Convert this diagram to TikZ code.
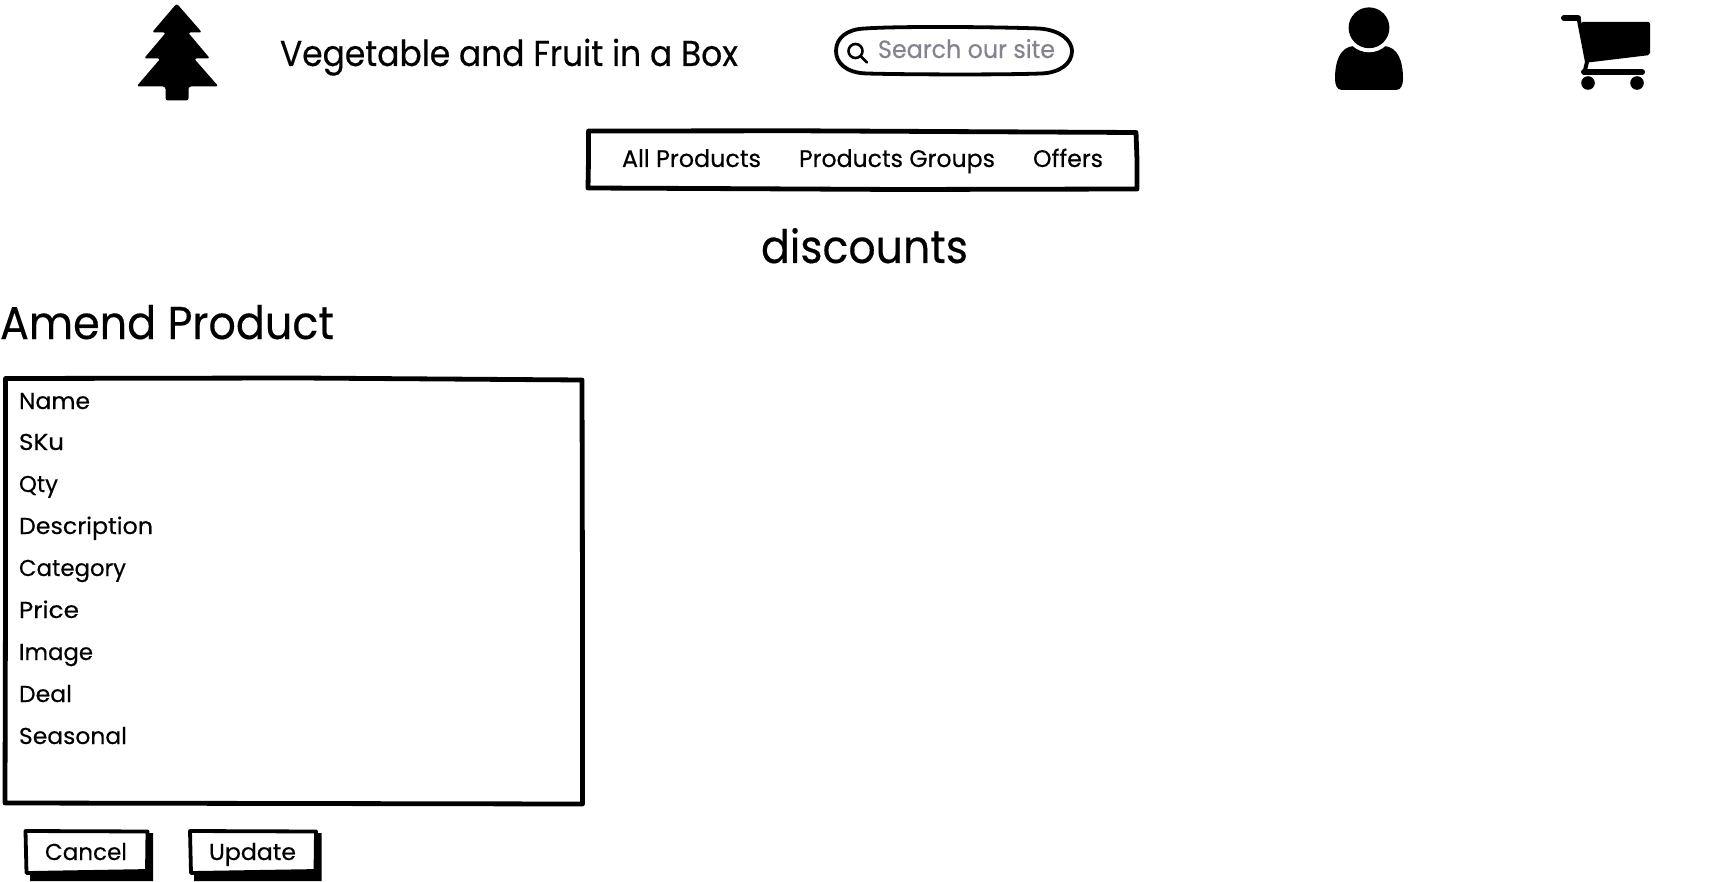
\documentclass[tikz,border=0pt]{standalone}
\usepackage{fontspec}
\usepackage{graphicx}
\setmainfont[FakeBold=0.35]{Poppins}
\newsavebox\fitbx
\newcommand\fitw[2]{\sbox\fitbx{#2}\pgfmathsetmacro\fitr{#1/\wd\fitbx}\scalebox{\fitr}[1]{\usebox\fitbx}}
\definecolor{searchgray}{HTML}{85838F}
\tikzset{
  lbl/.style={anchor=base west,inner sep=0pt,outer sep=0pt,text=black},
  row/.style={lbl,font=\fontsize{23}{26}\selectfont},
  nav/.style={lbl,font=\fontsize{24}{28}\selectfont},
  sk/.style={draw=black,line width=4.8pt,fill=white,line join=round},
  skthin/.style={draw=black,line width=3.8pt,fill=white,line join=round},
  ico/.style={fill=black,draw=none}
}
\begin{document}
\begin{tikzpicture}[x=1pt,y=-1pt]
\useasboundingbox (0,0) rectangle (1728,882);
\fill[white] (0,0) rectangle (1728,882);
% tree
\fill[ico,rounded corners=2.5pt] (176.7,3.5)--(202,32.5)--(188,32.5)--(210,58.5)--(194,58.5)--(218.5,86.5)--(188.5,86.5)--(188.5,100.5)--(165.5,100.5)--(165.5,86.5)--(136.5,86.5)--(160.5,58.5)--(144,58.5)--(166,32.5)--(152,32.5)--cycle;
\node[lbl,font=\fontsize{36}{40}\selectfont] (title) at (280,66) {\fitw{458}{Vegetable and Fruit in a Box}};
% search
\draw[skthin] (865,28.5) .. controls (900,26) and (1000,27) .. (1039,28.5) .. controls (1061,30) and (1072,41) .. (1072,51) .. controls (1072,64) and (1059,73) .. (1041,73.5) .. controls (1000,75) and (900,74.5) .. (867,73.5) .. controls (845,73) and (836,62) .. (836,51) .. controls (836,38) and (847,29) .. (865,28.5) -- cycle;
\draw[line width=2.6pt,black] (855.5,51) circle (7);
\draw[line width=2.6pt,black,line cap=round] (860.5,56) -- (867,62.5);
\node[lbl,font=\fontsize{25}{28}\selectfont,text=searchgray] (search) at (878,58) {\fitw{177}{Search our site}};
% person
\fill[ico] (1342,90) .. controls (1337,90) and (1335,85) .. (1335,79) .. controls (1335,61) and (1340,47) .. (1354,46) -- (1384,46) .. controls (1398,47) and (1403,61) .. (1403,79) .. controls (1403,85) and (1401,90) .. (1396,90) -- cycle;
\fill[white] (1369,27.8) circle (24.5);
\fill[ico] (1369,27.8) circle (20.4);
% cart
\draw[black,line width=6pt,line cap=round] (1564,18) -- (1578,18);
\draw[black,line width=4pt,line cap=round] (1578.5,18) -- (1587,62) -- (1585,70);
\fill[ico,rounded corners=2pt] (1581,22) -- (1650,22) -- (1650,55) -- (1588,62.5) -- cycle;
\draw[black,line width=6pt,line cap=round] (1584,72) -- (1642,72);
\fill[ico] (1588,83) circle (6.8);
\fill[ico] (1637,83) circle (6.8);
% nav box
\draw[sk] (588.5,131) -- (800,130.8) -- (1136,132.5) -- (1137,160) -- (1137,189) -- (900,189.5) -- (700,188.5) -- (588,188) -- (588.5,160) -- cycle;
\node[nav] (n1) at (622,167) {\fitw{139}{All Products}};
\node[nav] (n2) at (799,167) {\fitw{196}{Products Groups}};
\node[nav] (n3) at (1033,167) {\fitw{70}{Offers}};
\node[lbl,font=\fontsize{46}{50}\selectfont] (disc) at (761,263) {\fitw{207}{discounts}};
\node[lbl,font=\fontsize{46}{50}\selectfont] (amend) at (0,339) {\fitw{334}{Amend Product}};
% form box
\draw[sk] (5.5,378.5) -- (300,378) -- (582,380) -- (582.5,600) -- (582.5,804) -- (300,803.5) -- (5,803) -- (5.5,600) -- cycle;
\node[row] (r1) at (19,409) {\fitw{71}{Name}};
\node[row] (r2) at (19,450) {\fitw{45}{SKu}};
\node[row] (r3) at (19,492) {\fitw{39}{Qty}};
\node[row] (r4) at (19,534) {\fitw{134}{Description}};
\node[row] (r5) at (19,576) {\fitw{107}{Category}};
\node[row] (r6) at (19,618) {\fitw{60}{Price}};
\node[row] (r7) at (19,660) {\fitw{74}{Image}};
\node[row] (r8) at (19,702) {\fitw{53}{Deal}};
\node[row] (r9) at (19,744) {\fitw{108}{Seasonal}};
% buttons
\fill[ico] (30,835) -- (153,833) -- (153,881) -- (30,881) -- cycle;
\draw[skthin] (25.5,831) -- (147.5,831.5) -- (147,871) -- (26.5,873) -- cycle;
\node[lbl,font=\fontsize{23}{26}\selectfont] (cancel) at (45,860) {\fitw{82}{Cancel}};
\fill[ico] (194,835) -- (321.5,833) -- (321.5,881) -- (194,881) -- cycle;
\draw[skthin] (190,831) -- (316,831.5) -- (315.5,871) -- (191,873) -- cycle;
\node[lbl,font=\fontsize{23}{26}\selectfont] (update) at (209,860) {\fitw{87}{Update}};
\end{tikzpicture}
\end{document}
